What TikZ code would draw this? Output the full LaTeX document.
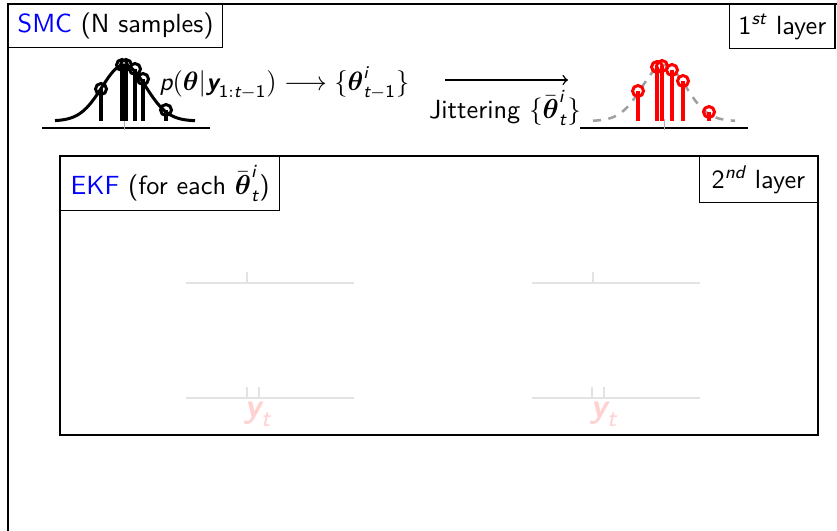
\documentclass[tikz,border=0pt]{standalone}
\usepackage{amsmath}
\usepackage{fontspec}
\newcommand{\sfi}[1]{\text{\sffamily\itshape #1}}
\newcommand{\sfbi}[1]{\text{\sffamily\bfseries\itshape #1}}
\newcommand{\bth}{\boldsymbol{\theta}}
\begin{document}
\begin{tikzpicture}[x=0.4pt,y=-0.4pt,
  font=\sffamily\fontsize{10.5}{12.6}\selectfont,
  tbox/.style={draw, line width=0.5pt, anchor=north west, inner xsep=3.5pt, inner ysep=0pt},
  frame/.style={draw, line width=0.6pt},
  faint/.style={draw=gray!22, line width=0.5pt},
  stemk/.style={line width=1.3pt},
  stemr/.style={line width=1.3pt, red},
  gauss/.style={line width=1.2pt},
  gaussd/.style={line width=1pt, gray!75, dash pattern=on 3.2pt off 3pt}]
\useasboundingbox (0,0) rectangle (837,531);
% outer frame
\draw[frame] (8,4) rectangle (860,560);
\node[tbox, minimum width=85.6pt, minimum height=17.2pt] (smc) at (8,4) {\textcolor{blue}{SMC} (N samples)};
\node[tbox, minimum height=17.6pt] (l1) at (729,4) {1$^{\sfi{st}}$ layer};
% left distribution
\coordinate (axL1) at (42,128); \coordinate (axL2) at (210,128);
\draw[line width=0.5pt] (axL1) -- (axL2);
\draw[gray!60, line width=0.4pt] (124,119) -- (124,130);
\draw[gauss] plot[domain=55:195, samples=80, smooth] (\x,{121-56*exp(-((\x-124)^2)/968)});
\foreach \px/\py in {101/89,122/65,126/65,135/69,143/79,166/110}{
  \draw[stemk] (\px,121) -- (\px,\py);
  \draw[line width=1.2pt] (\px,\py) circle[radius=2.2pt];
}
\node[anchor=west, inner sep=0pt, scale=0.97] (plab) at (159,83) {$\sfi{p}(\bth|\sfbi{y}_{\mathsf{1}:\sfi{t}-\mathsf{1}})\longrightarrow\{\bth^{\sfi{i}}_{\sfi{t}-\mathsf{1}}\}$};
% jitter arrow
\coordinate (ja) at (445,80); \coordinate (jb) at (568,80);
\draw[->, line width=0.6pt] (ja) -- (jb);
\node[inner sep=0pt] (jlab) at (505,108) {Jittering $\{\bar{\bth}^{\sfi{i}}_{\sfi{t}}\}$};
% right distribution
\coordinate (axR1) at (580,128); \coordinate (axR2) at (748,128);
\draw[line width=0.5pt] (axR1) -- (axR2);
\draw[gray!60, line width=0.4pt] (664,119) -- (664,130);
\draw[gaussd] plot[domain=593:735, samples=80, smooth] (\x,{121-56*exp(-((\x-664)^2)/968)});
\foreach \px/\py in {638/91,657/67,662/66,672/70,683/81,709/112}{
  \draw[stemr] (\px,121) -- (\px,\py);
  \draw[line width=1.2pt, red] (\px,\py) circle[radius=2.2pt];
}
% EKF layer
\draw[frame] (60,156) rectangle (818,435);
\node[tbox, minimum width=87.6pt, minimum height=21.6pt] (ekf) at (60,156) {\textcolor{blue}{EKF} (for each $\bar{\bth}^{\sfi{i}}_{\sfi{t}}$)};
\node[tbox, anchor=north east, minimum width=47.2pt, minimum height=18.4pt] (l2) at (818,156) {2$^{\sfi{nd}}$ layer};
% faint axes
\draw[faint] (186,283) -- (354,283);
\draw[faint] (247,272) -- (247,283);
\draw[faint] (532,283) -- (700,283);
\draw[faint] (593,272) -- (593,283);
\draw[faint] (186,398) -- (354,398);
\draw[faint] (247,387) -- (247,398);
\draw[faint] (259,387) -- (259,398);
\draw[faint] (532,398) -- (700,398);
\draw[faint] (592,387) -- (592,398);
\draw[faint] (604,387) -- (604,398);
\node[text=red!18, scale=1.3] (y1) at (258,414) {$\sfbi{y}_{\sfi{t}}$};
\node[text=red!18, scale=1.3] (y2) at (604,414) {$\sfbi{y}_{\sfi{t}}$};
\end{tikzpicture}
\end{document}
